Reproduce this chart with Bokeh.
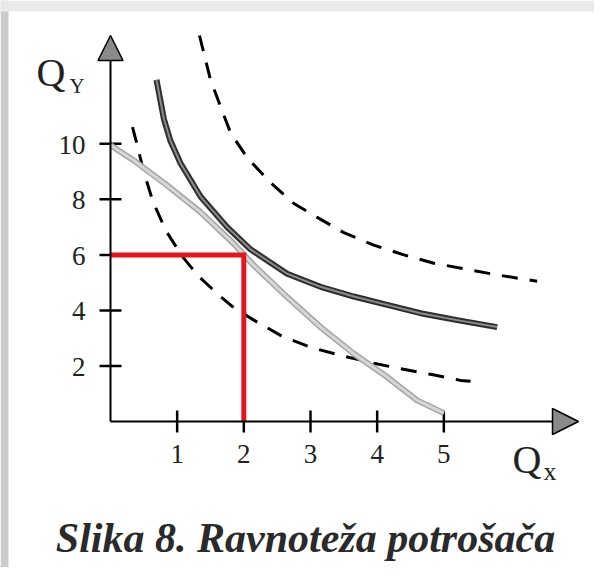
import math
from bokeh.plotting import figure
from bokeh.models import Range1d, Arrow, NormalHead, Label, BoxAnnotation
from bokeh.embed import file_html
from bokeh.resources import INLINE

# ---------------- data ----------------
x_ticks = [1, 2, 3, 4, 5]
y_ticks = [2, 4, 6, 8, 10]
x_tick_labels = ["1", "2", "3", "4", "5"]
y_tick_labels = ["2", "4", "6", "8", "10"]

# budget line
budget_x = [0, 0.35, 0.85, 1.35, 1.85, 2.15, 2.65, 3.15, 3.65, 4.15, 4.6, 5.0]
budget_y = [9.95, 9.4, 8.5, 7.54, 6.4, 5.62, 4.48, 3.4, 2.44, 1.6, 0.76, 0.3]

# indifference curve touching the budget line (solid)
ic2_x = [0.69, 0.8, 0.9, 1.05, 1.35, 1.75, 2.1, 2.65, 3.15, 3.65, 4.15, 4.65, 5.2, 5.8]
ic2_y = [12.3, 10.9, 10.1, 9.3, 8.1, 7.0, 6.2, 5.32, 4.85, 4.5, 4.2, 3.9, 3.65, 3.4]

# higher indifference curve (dashed)
ic3_x = [1.335, 1.5, 1.8, 2.05, 2.4, 2.75, 3.1, 3.5, 3.95, 4.4, 4.85, 5.3, 5.75, 6.4]
ic3_y = [13.9, 12.3, 10.4, 9.5, 8.6, 7.85, 7.35, 6.8, 6.35, 6.0, 5.7, 5.5, 5.3, 5.05]

# lower indifference curve (dashed)
ic1_x = [0.33, 0.385, 0.5, 0.635, 0.835, 1.085, 1.325, 1.65, 1.85, 2.15, 2.55, 3.0,
         3.45, 3.95, 4.35, 4.8, 5.25, 5.4]
ic1_y = [10.6, 10.1, 8.98, 7.93, 6.85, 5.92, 5.22, 4.5, 4.1, 3.65, 3.1, 2.67,
         2.38, 2.1, 1.9, 1.7, 1.48, 1.45]

# equilibrium point
eq_x = 2
eq_y = 6

x_axis_end = 7.02
y_axis_end = 13.9

title_text = "Slika 8. Ravnoteža potrošača"

# ---------------- layout ----------------
W, H = 594, 567
OFF = 0           # page offset of the canvas (observed)
PX_PER_X = 66.667
PX_PER_Y = 27.77
X0_PAGE = 110.0   # page x of data x = 0
Y0_PAGE = 421.0   # page y of data y = 0

x_lo = (OFF - X0_PAGE) / PX_PER_X
x_hi = (OFF + W - X0_PAGE) / PX_PER_X
y_hi = (Y0_PAGE - OFF) / PX_PER_Y
y_lo = (Y0_PAGE - (OFF + H)) / PX_PER_Y

p = figure(width=W, height=H, output_backend="svg", toolbar_location=None,
           x_range=Range1d(x_lo, x_hi), y_range=Range1d(y_lo, y_hi),
           x_axis_location=None, y_axis_location=None, min_border=0,
           background_fill_color="white", border_fill_color="white")
p.outline_line_color = None
p.xgrid.visible = False
p.ygrid.visible = False

SERIF = "Liberation Serif"

def sx(px):
    return px - OFF

def sy(py):
    return OFF + H - py

# grey page frame of the scanned figure
p.add_layout(BoxAnnotation(right=x_lo + 8 / PX_PER_X, fill_color="#cbcbcb",
                           fill_alpha=1, line_color=None, level="underlay"))
p.add_layout(BoxAnnotation(bottom=y_hi - 11 / PX_PER_Y, fill_color="#e9e9e9",
                           fill_alpha=1, line_color=None, level="underlay"))

# axes with arrow heads
p.add_layout(Arrow(x_start=0, y_start=0, x_end=0, y_end=y_axis_end,
                   line_color="black", line_width=2,
                   end=NormalHead(size=25, fill_color="#8a8a8a",
                                  line_color="black", line_width=1.5)))
p.add_layout(Arrow(x_start=0, y_start=0, x_end=x_axis_end, y_end=0,
                   line_color="black", line_width=2,
                   end=NormalHead(size=26, fill_color="#8a8a8a",
                                  line_color="black", line_width=1.5)))

# tick marks
p.scatter(x=x_ticks, y=[0] * len(x_ticks), marker="dash", size=22,
          angle=math.pi / 2, line_color="black", line_width=2.5)
p.scatter(x=[0] * len(y_ticks), y=y_ticks, marker="dash", size=22,
          line_color="black", line_width=2.5)

# tick labels
p.text(x=x_ticks, y=[0] * len(x_ticks), text=x_tick_labels, y_offset=32,
       text_align="center", text_baseline="alphabetic",
       text_font={"value": SERIF}, text_font_size="27px", text_color="#222222")
p.text(x=[0] * len(y_ticks), y=y_ticks, text=y_tick_labels, x_offset=-25, y_offset=1,
       text_align="right", text_baseline="alphabetic",
       text_font={"value": SERIF}, text_font_size="27px", text_color="#222222")

# curves
p.line(ic3_x, ic3_y, line_color="black", line_width=3, line_dash="16 12")
p.line(ic1_x, ic1_y, line_color="black", line_width=3, line_dash="16 12")
p.line(budget_x, budget_y, line_color="#a4a4a4", line_width=6)
p.line(budget_x, budget_y, line_color="#d6d6d6", line_width=3)
p.line(ic2_x, ic2_y, line_color="#2e2e2e", line_width=6, line_join="round")
p.line(ic2_x, ic2_y, line_color="#8c8c8c", line_width=2, line_join="round")

# equilibrium lines
p.line([0, eq_x, eq_x], [eq_y, eq_y, 0], line_color="#e3161f", line_width=5,
       line_join="miter")

# axis titles
p.add_layout(Label(x=sx(36), y=sy(72), x_units="screen", y_units="screen", text="Q",
                   text_font=SERIF, text_font_size="40px", text_color="#222222",
                   text_baseline="alphabetic", text_align="left"))
p.add_layout(Label(x=sx(69), y=sy(85), x_units="screen", y_units="screen", text="Y",
                   text_font=SERIF, text_font_size="21px", text_color="#222222",
                   text_baseline="alphabetic", text_align="left"))
p.add_layout(Label(x=sx(512), y=sy(459), x_units="screen", y_units="screen", text="Q",
                   text_font=SERIF, text_font_size="40px", text_color="#222222",
                   text_baseline="alphabetic", text_align="left"))
p.add_layout(Label(x=sx(543), y=sy(471), x_units="screen", y_units="screen", text="x",
                   text_font=SERIF, text_font_size="26px", text_color="#222222",
                   text_baseline="alphabetic", text_align="left"))

# caption
p.add_layout(Label(x=sx(305), y=sy(537), x_units="screen", y_units="screen",
                   text=title_text, text_font=SERIF, text_font_size="42px",
                   text_font_style="bold italic", text_color="#2a2a2a",
                   text_baseline="alphabetic", text_align="center"))

open("out.html", "w").write(file_html(p, INLINE))
